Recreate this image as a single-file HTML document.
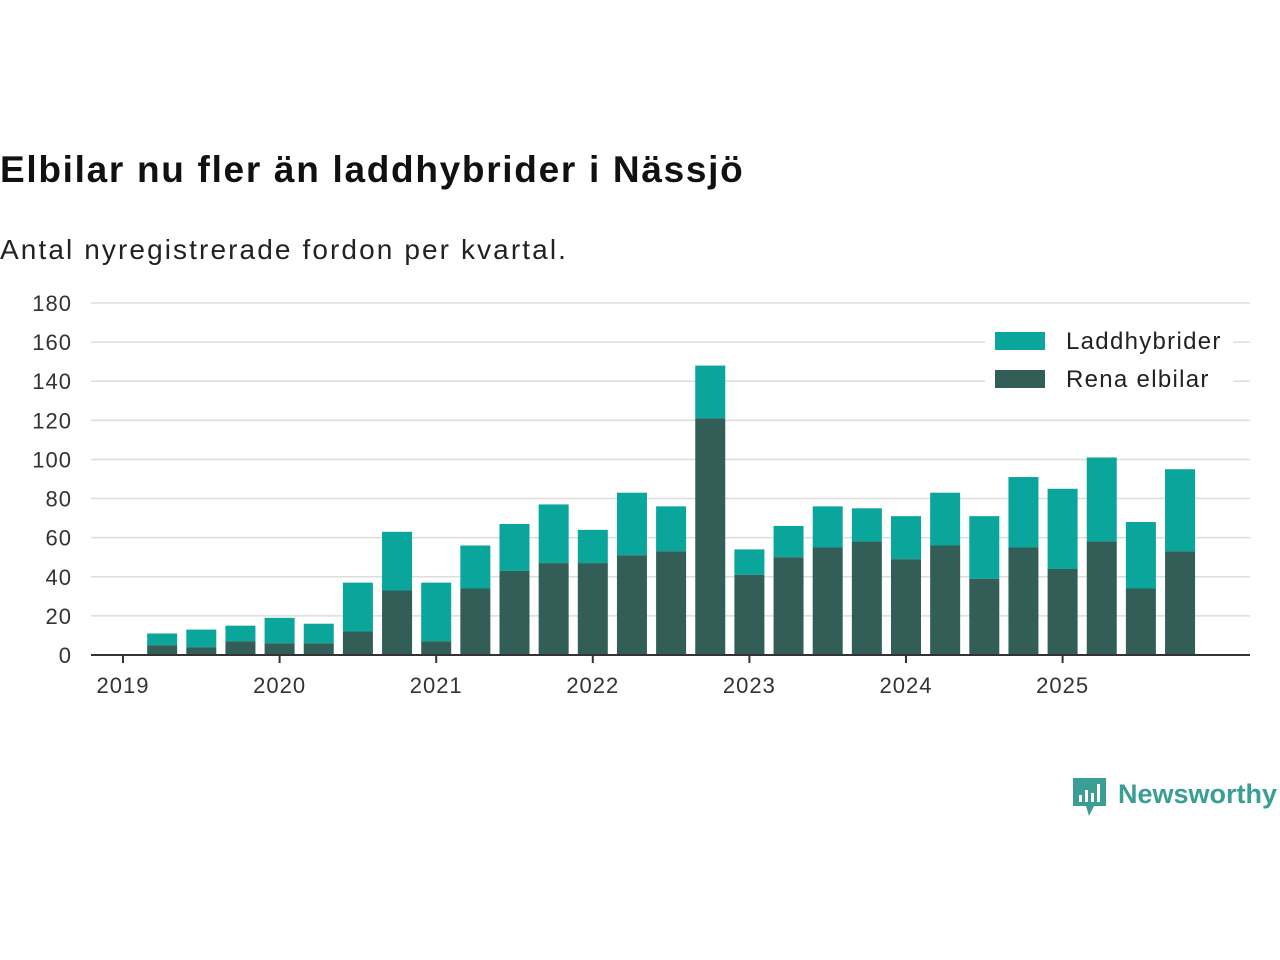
<!DOCTYPE html>
<html><head><meta charset="utf-8">
<style>
body{margin:0;background:#fff;width:1280px;height:960px;overflow:hidden;font-family:"Liberation Sans",sans-serif}
#title{position:absolute;left:0;top:149px;font-size:37px;font-weight:bold;color:#111;letter-spacing:1.7px}
#sub{position:absolute;left:0;top:234px;font-size:28px;color:#222;letter-spacing:2.1px}
svg{position:absolute;left:0;top:0}
</style></head><body>
<div id="title">Elbilar nu fler än laddhybrider i Nässjö</div>
<div id="sub">Antal nyregistrerade fordon per kvartal.</div>
<svg id="c" width="1280" height="960"></svg>
<script>
const years=[2019,2020,2021,2022,2023,2024,2025];
const yTicks=[0,20,40,60,80,100,120,140,160,180];
const elbilar=[5,4,7,6,6,12,33,7,34,43,47,47,51,53,121,41,50,55,58,49,56,39,55,44,58,34,53];
const totals=[11,13,15,19,16,37,63,37,56,67,77,64,83,76,148,54,66,76,75,71,83,71,91,85,101,68,95];
const NS="http://www.w3.org/2000/svg";
const svg=document.getElementById('c');
function el(t,a,p){const e=document.createElementNS(NS,t);for(const k in a)e.setAttribute(k,a[k]);(p||svg).appendChild(e);return e;}
const y=v=>655-v*352/180;
const x=t=>123+(t-2019)*156.6;
for(const v of yTicks){
 const g=el('line',{x1:91,x2:1250,y1:y(v),y2:y(v),stroke:'#ddd','stroke-width':1.5});
 
 
 const t=el('text',{x:72,y:y(v)+8,'text-anchor':'end','font-size':22,fill:'#333','letter-spacing':1});
 t.textContent=v;
 
 
}
elbilar.forEach((e,i)=>{
 const cx=x(2019.25+i*0.25);
 const r1=el('rect',{x:cx-15,y:y(totals[i]),width:30,height:y(e)-y(totals[i]),fill:'#0aa59b'});
 
 
 const r2=el('rect',{x:cx-15,y:y(e),width:30,height:655-y(e),fill:'#325e57'});
 
 
});
el('line',{x1:91,x2:1250,y1:655,y2:655,stroke:'#333','stroke-width':2});
for(const yr of years){
 el('line',{x1:x(yr),x2:x(yr),y1:655,y2:663,stroke:'#333','stroke-width':2});
 const t=el('text',{x:x(yr),y:693,'text-anchor':'middle','font-size':22,fill:'#333','letter-spacing':1});
 t.textContent=yr;
 
 
}
const lg=el('g',{});


el('rect',{x:985,y:322,width:248,height:75,fill:'#fff'},lg);
[['Laddhybrider','#0aa59b',332],['Rena elbilar','#325e57',370]].forEach(([n,c,yy])=>{
 el('rect',{x:995,y:yy,width:50,height:18,fill:c},lg);
 const t=el('text',{x:1066,y:yy+17,'font-size':24,fill:'#222','letter-spacing':1.3},lg);
 t.textContent=n;
 
 
});
const logo=el('g',{});


el('path',{d:'M1073 778h33v28h-12l-5 10l-3-10h-13z',fill:'#3a9e94'},logo);
el('rect',{x:1079,y:795,width:3,height:7,fill:'#fff'},logo);
el('rect',{x:1085,y:790,width:3,height:12,fill:'#fff'},logo);
el('rect',{x:1091,y:793,width:3,height:9,fill:'#fff'},logo);
el('rect',{x:1097,y:784,width:3,height:18,fill:'#fff'},logo);
const lt=el('text',{x:1118,y:803,'font-size':27,'font-weight':'bold',fill:'#3a9e94'},logo);
lt.textContent='Newsworthy';
</script>
</body></html>
